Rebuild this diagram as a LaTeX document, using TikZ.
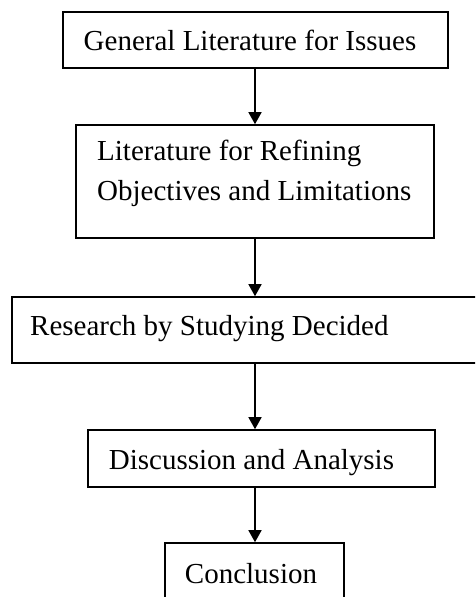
\documentclass[tikz,border=0pt]{standalone}
\usepackage{fontspec}
\setmainfont{Liberation Serif}
\usetikzlibrary{arrows.meta}
\begin{document}
\begin{tikzpicture}[x=1pt,y=-1pt,
  frame/.style={draw=black, line width=1.6pt, inner sep=0pt, rectangle},
  lbl/.style={inner sep=0pt, font=\fontsize{29}{40}\selectfont},
  arr/.style={line width=1.5pt, -{Triangle[length=12pt,width=13pt]}}]
\clip (0,0) rectangle (475,597);
\fill[white] (0,0) rectangle (475,597);
\coordinate (ax) at (255,0);
% frames
\node[frame, minimum width=385pt, minimum height=56pt] (b1) at (255.5,40) {};
\node[frame, minimum width=358pt, minimum height=113pt] (b2) at (255,181.5) {};
\node[frame, minimum width=478pt, minimum height=66pt] (b3) at (251,330) {};
\node[frame, minimum width=347pt, minimum height=57pt] (b4) at (261.5,458.5) {};
\node[frame, minimum width=179pt, minimum height=97pt] (b5) at (254.5,591.5) {};
% texts
\node[lbl, anchor=base] (t1) at (250,50) {General Literature for Issues};
\node[lbl, align=left, anchor=west] (t2) at (97,173) {Literature for Refining\\Objectives and Limitations};
\node[lbl, anchor=base west] (t3) at (30,335) {Research by Studying Decided};
\node[lbl, anchor=base] (t4) at (251.5,469) {Discussion and Analysis};
\node[lbl, anchor=base] (t5) at (251,583) {Conclusion};
% arrows
\draw[arr] (b1.south -| ax) -- (b2.north -| ax);
\draw[arr] (b2.south -| ax) -- (b3.north -| ax);
\draw[arr] (b3.south -| ax) -- (b4.north -| ax);
\draw[arr] (b4.south -| ax) -- (b5.north -| ax);
\end{tikzpicture}
\end{document}
